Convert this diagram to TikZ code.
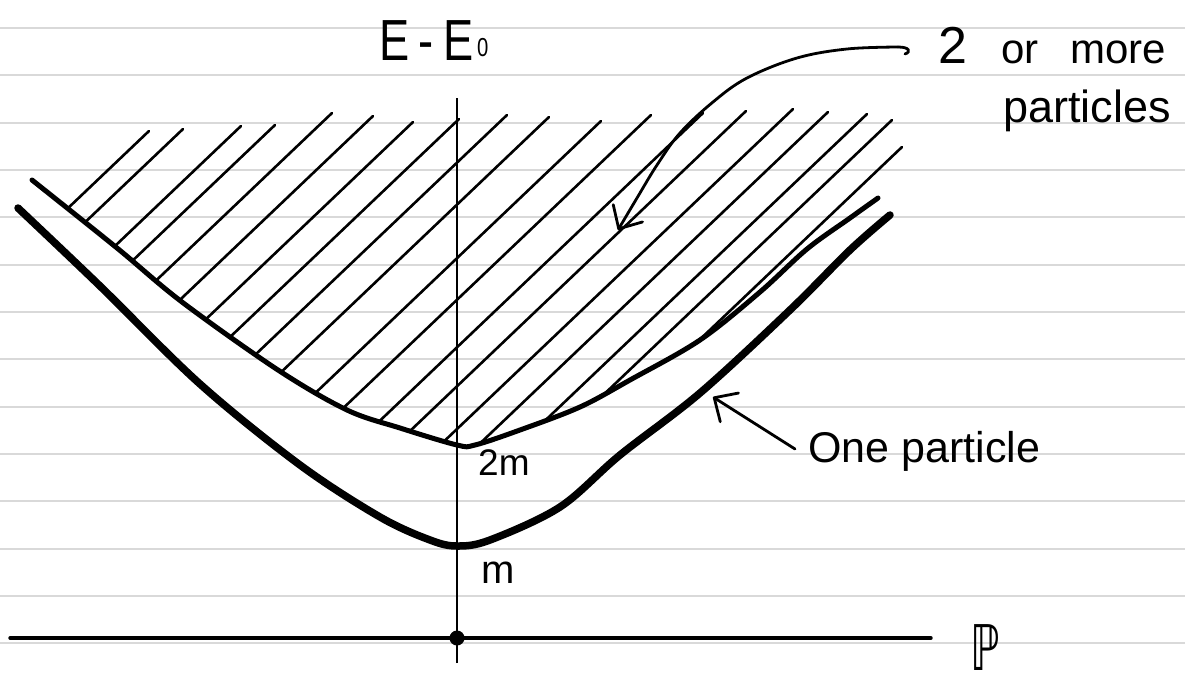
\documentclass[tikz,border=0pt]{standalone}
\usepackage{fontspec}
\setmainfont{Liberation Sans}
\newfontfamily\dejavu{DejaVu Sans}
\usetikzlibrary{arrows.meta}
\begin{document}
\begin{tikzpicture}[x=1pt,y=-1pt,
  paper/.style={draw=black!15, line width=1.8pt},
  axisline/.style={line width=3.4pt, line cap=round},
  onecurve/.style={line width=7.5pt, line cap=round, line join=round},
  twocurve/.style={line width=5pt, line cap=round, line join=round},
  hatchline/.style={line width=2.6pt, line cap=round},
  pointer/.style={line width=2.8pt, line cap=round, -{Straight Barb[length=18pt,width=34pt,round]}},
  hand/.style={inner sep=0pt, anchor=base west},
]
\useasboundingbox (0,0) rectangle (1185,683);
\fill[white] (0,0) rectangle (1185,683);
% lined paper
\foreach \k in {0,...,13}
  \draw[paper] (0,{28+47.33*\k}) -- (1185,{28+47.33*\k});

% hatching of the multi-particle region
\begin{scope}
\clip plot[smooth, tension=0.55] coordinates {(32,180) (117,248) (182,302) (278,370) (347,410) (400,428) (457,445) (475,445) (520,430) (580,407) (630,380) (700,340) (760,292) (807,249) (850,218) (878,198)}
  -- (940,198) -- (940,60) -- (0,60) -- (0,180) -- cycle;
\foreach \x/\y in {149/131, 183/129, 241/126, 275/125, 332/113, 373/116, 413/122, 459/119, 507/115, 549/117, 601/121, 651/115, 703/113, 746/111, 793/109, 828/112, 867/114, 892/120, 902/147}
  \draw[hatchline] (\x,\y) -- ++(-420,400);
\end{scope}

% axes
\coordinate (xl) at (10,638);
\coordinate (xr) at (931,638);
\coordinate (yb) at (457,663);
\coordinate (yt) at (457,98);
\coordinate (origin) at (457,638);
\draw[axisline] (xl) -- (xr);
\draw[line width=2.8pt] (yb) -- (yt);
\fill (origin) circle (7.5);

% threshold curve 2m
\draw[twocurve] plot[smooth, tension=0.55] coordinates {(32,180) (117,248) (182,302) (278,370) (347,410) (400,428) (457,445) (475,445) (520,430) (580,407) (630,380) (700,340) (760,292) (807,249) (850,218) (878,198)};

% one particle curve
\draw[onecurve] plot[smooth, tension=0.55] coordinates {(18,208) (100,286) (200,384) (300,465) (380,517) (430,540) (457,546) (490,540) (560,507) (620,455) (700,393) (790,310) (850,250) (890,215)};

% labels
\node[hand, font=\fontsize{58}{60}\selectfont] (elabel) at (379,60)
  {\scalebox{0.78}[1]{E\hspace{12pt}-\hspace{12pt}E\hspace{5pt}\raisebox{4pt}{\fontsize{26}{26}\selectfont 0}}};
\node[hand, font=\fontsize{42}{44}\selectfont] (twoormore) at (938,63)
  {{\fontsize{52}{54}\selectfont 2}\hspace{34pt}or\hspace{32pt}more};
\node[hand, font=\fontsize{45}{48}\selectfont] (particles) at (1003,122) {particles};
\node[hand, font=\fontsize{43}{46}\selectfont] (onepart) at (808,462) {One particle};
\node[hand, font=\fontsize{37}{40}\selectfont] (twom) at (478,475) {2m};
\node[hand, font=\fontsize{40}{42}\selectfont] (mlabel) at (481,583) {m};
\node[hand, font=\dejavu\fontsize{60}{62}\selectfont] (plabel) at (970,670) {\scalebox{0.7}[1.05]{ℙ}};

% pointers
\coordinate (a1tail) at (905,54);
\coordinate (a1tip) at (618,230);
\coordinate (a2tail) at (795,449);
\coordinate (a2tip) at (713,397);
\draw[line width=2.8pt, line cap=round] (a1tail) .. controls (911,52) and (910,47) .. (898,47);
\draw[pointer] plot[smooth, tension=0.6] coordinates {(898,47) (847,49) (797,58) (747,78) (713,102) (680,133) (657,165) (637,198) (a1tip)};
\draw[pointer] (a2tail) -- (a2tip);
\end{tikzpicture}
\end{document}
